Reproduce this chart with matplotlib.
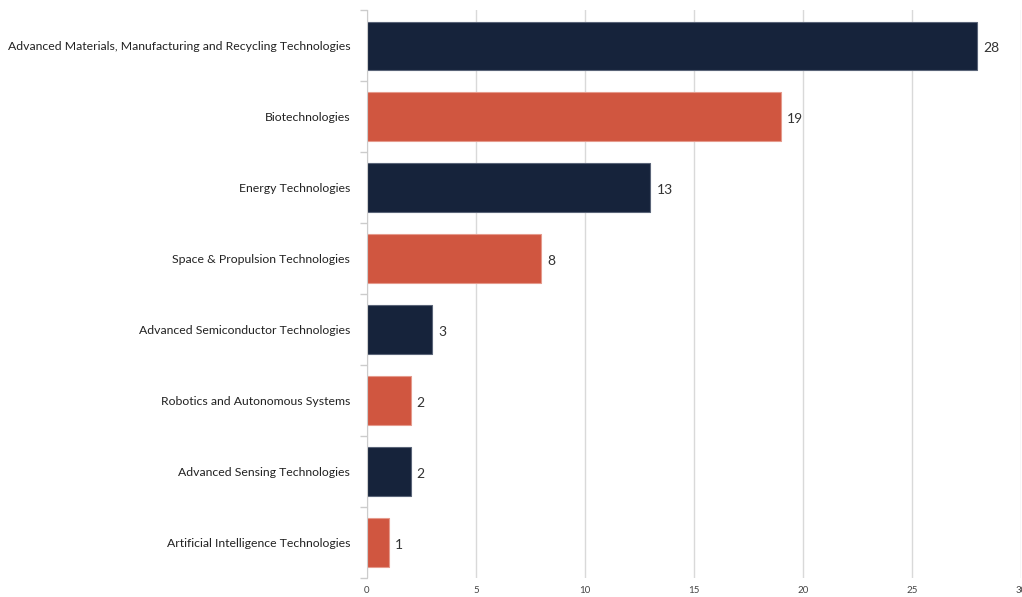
import matplotlib.pyplot as plt
import numpy as np

# technology areas, top to bottom
categories = [
    'Advanced Materials, Manufacturing and Recycling Technologies',
    'Biotechnologies',
    'Energy Technologies',
    'Space & Propulsion Technologies',
    'Advanced Semiconductor Technologies',
    'Robotics and Autonomous Systems',
    'Advanced Sensing Technologies',
    'Artificial Intelligence Technologies',
]
counts = [28, 19, 13, 8, 3, 2, 2, 1]
x_ticks = [0, 5, 10, 15, 20, 25, 30]

NAVY = '#16233b'
RED = '#d05640'
colors = [NAVY if i % 2 == 0 else RED for i in range(len(counts))]
edges = ['#5a6478' if i % 2 == 0 else '#e59a8c' for i in range(len(counts))]

plt.rcParams['font.family'] = ['Lato', 'DejaVu Sans']

fig = plt.figure(figsize=(10.22, 5.97), dpi=100)
ax = fig.add_axes([0.359, 0.032, 0.64, 0.951])

y = np.arange(len(categories))
bars = ax.barh(y, counts, height=0.68, color=colors, edgecolor=edges, linewidth=0.8, zorder=3)
for b, v in zip(bars, counts):
    ax.text(b.get_width() + 0.28, b.get_y() + b.get_height() / 2 + 0.03, str(v),
            va='center', ha='left', fontsize=10, color='#333333')

ax.set_ylim(len(categories) - 0.5, -0.5)
ax.set_xlim(0, 30)
ax.set_yticks(y)
ax.set_yticklabels(categories, fontsize=8.85, color='#222222')
ax.set_yticks(np.arange(-0.5, len(categories)), minor=True)
ax.tick_params(axis='y', which='major', length=0, pad=12)
ax.tick_params(axis='y', which='minor', length=5, color='#cccccc', width=1)

ax.set_xticks(x_ticks)
ax.set_xticklabels([str(t) for t in x_ticks], fontsize=7, color='#444444')
ax.tick_params(axis='x', length=0, pad=6)
ax.grid(axis='x', color='#d9d9d9', linewidth=1, zorder=0)

for side in ['top', 'right', 'bottom']:
    ax.spines[side].set_visible(False)
ax.spines['left'].set_color('#cccccc')
ax.spines['left'].set_zorder(4)

fig.savefig('out.png', dpi=100)
